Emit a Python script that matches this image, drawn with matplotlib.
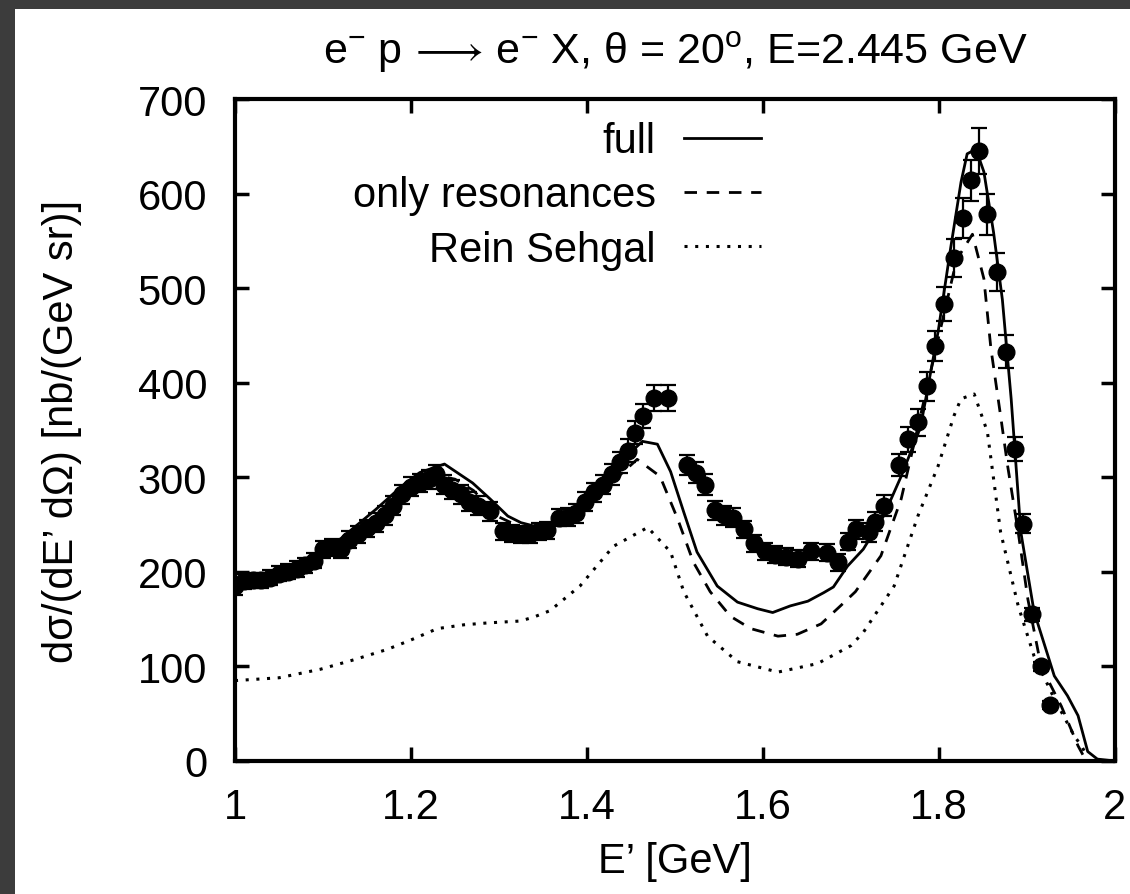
import numpy as np
import matplotlib
matplotlib.use("Agg")
import matplotlib.pyplot as plt
from matplotlib.patches import Rectangle

plt.rcParams.update({
    "font.family": ["Liberation Sans", "DejaVu Sans"],
    "mathtext.fontset": "custom",
    "mathtext.rm": "Liberation Sans",
    "mathtext.it": "Liberation Sans:italic",
    "font.size": 30,
})

# --- data points (E' [GeV], dsigma, error) ------------------------------------
data_E = [1.000, 1.010, 1.020, 1.030, 1.040, 1.050, 1.060, 1.070, 1.080, 1.090,
          1.100, 1.110, 1.120, 1.130, 1.140, 1.150, 1.160, 1.170, 1.180, 1.190,
          1.200, 1.210, 1.220, 1.228, 1.237, 1.247, 1.257, 1.266, 1.276, 1.290,
          1.305, 1.315, 1.325, 1.335, 1.345, 1.355, 1.368, 1.378, 1.388, 1.398,
          1.408, 1.418, 1.428, 1.438, 1.447, 1.455, 1.464, 1.476, 1.492, 1.514,
          1.524, 1.534, 1.545, 1.556, 1.566, 1.578, 1.590, 1.602, 1.614, 1.626,
          1.640, 1.654, 1.673, 1.685, 1.697, 1.706, 1.720, 1.727, 1.737, 1.754,
          1.765, 1.776, 1.786, 1.796, 1.806, 1.817, 1.827, 1.836, 1.845, 1.855,
          1.866, 1.876, 1.886, 1.895, 1.906, 1.916, 1.926]
data_v = [185, 190, 191, 191, 194, 198, 200, 203, 207, 212,
          224, 226, 224, 234, 240, 246, 252, 260, 270, 282,
          290, 294, 298, 303, 292, 287, 282, 274, 270, 264,
          243, 241, 240, 240, 243, 244, 257, 258, 262, 274,
          284, 292, 303, 316, 328, 347, 365, 384, 384, 313,
          305, 292, 265, 260, 257, 245, 230, 222, 218, 216,
          214, 222, 220, 210, 232, 245, 242, 253, 270, 313,
          340, 358, 396, 439, 483, 532, 574, 614, 645, 578,
          517, 433, 330, 251, 155, 100, 59]
data_err = [9, 8, 8, 8, 8, 8, 8, 8, 8, 8,
            9, 9, 9, 9, 9, 9, 10, 10, 10, 10,
            10, 10, 10, 10, 10, 10, 10, 10, 10, 10,
            9, 9, 9, 9, 9, 9, 9, 9, 10, 10,
            10, 10, 11, 11, 12, 12, 13, 14, 14, 11,
            11, 11, 10, 10, 10, 9, 9, 9, 9, 9,
            9, 9, 9, 9, 9, 10, 10, 10, 11, 12,
            13, 14, 15, 16, 18, 20, 21, 22, 24, 22,
            20, 17, 13, 10, 7, 5, 4]

# --- model curves ------------------------------------------------------------
full_E = [1.00, 1.05, 1.10, 1.12, 1.16, 1.19, 1.21, 1.238, 1.27, 1.29, 1.31, 1.325,
          1.35, 1.37, 1.40, 1.42, 1.44, 1.463, 1.48, 1.495, 1.51, 1.525, 1.548,
          1.571, 1.594, 1.611, 1.631, 1.651, 1.669, 1.68, 1.696, 1.714, 1.737,
          1.757, 1.779, 1.799, 1.813, 1.825, 1.832, 1.842, 1.851, 1.862, 1.872,
          1.882, 1.893, 1.908, 1.931, 1.946, 1.958, 1.969, 1.98, 2.0]
full_v = [190, 200, 222, 235, 266, 291, 305, 314, 294, 277, 259, 252,
          246, 252, 275, 296, 318, 338, 335, 306, 263, 221, 185,
          168, 161, 157, 164, 169, 178, 184, 206, 224, 259,
          301, 353, 454, 541, 612, 642, 647, 623, 559, 488,
          383, 242, 158, 90, 69, 48, 10, 2, 0]

res_E = [1.00, 1.05, 1.10, 1.15, 1.19, 1.225, 1.25, 1.271, 1.30, 1.33, 1.36, 1.40,
         1.43, 1.457, 1.483, 1.503, 1.521, 1.54, 1.563, 1.586, 1.617, 1.639, 1.666,
         1.688, 1.705, 1.734, 1.757, 1.772, 1.80, 1.82, 1.838, 1.851, 1.859, 1.87,
         1.878, 1.89, 1.901, 1.916, 1.939, 1.958, 1.965]
res_v = [188, 198, 220, 250, 285, 303, 298, 286, 258, 245, 245, 268,
         296, 319, 301, 256, 210, 179, 153, 140, 132, 134, 145,
         164, 179, 217, 277, 337, 450, 530, 557, 510, 436, 365,
         312, 242, 171, 100, 58, 16, 4]

rs_E = [1.00, 1.05, 1.097, 1.135, 1.173, 1.20, 1.23, 1.26, 1.287, 1.324, 1.339,
        1.358, 1.392, 1.43, 1.469, 1.495, 1.51, 1.537, 1.571, 1.617, 1.662, 1.70,
        1.714, 1.749, 1.776, 1.799, 1.817, 1.825, 1.84, 1.855, 1.87, 1.89, 1.908,
        1.931, 1.954, 1.962, 1.968]
rs_v = [85, 88, 97, 107, 118, 128, 140, 144, 146, 148, 152,
        159, 185, 227, 247, 221, 179, 132, 105, 94, 103, 122,
        136, 185, 259, 312, 365, 383, 388, 348, 242, 164, 111,
        66, 26, 16, 5]

fig = plt.figure(figsize=(11.3, 8.95), dpi=100, facecolor="#3c3c3c")
fig.patches.append(Rectangle((15 / 1130, 0), 1, 1 - 10 / 895, transform=fig.transFigure,
                             facecolor="white", edgecolor="none", zorder=-10))
ax = fig.add_axes([235 / 1130, 133 / 895, 880 / 1130, 662 / 895])

ax.plot(full_E, full_v, color="black", lw=2.0, ls="-", label="full")
ax.plot(res_E, res_v, color="black", lw=2.0, ls=(0, (4.5, 3.5)), label="only resonances")
ax.plot(rs_E, rs_v, color="black", lw=2.2, ls=(0, (1, 2.5)), label="Rein Sehgal")
ax.errorbar(data_E, data_v, yerr=data_err, fmt="o", color="black", ms=12,
            elinewidth=1.6, capsize=6, capthick=1.6, zorder=5)

ax.set_xlim(1, 2)
ax.set_ylim(0, 700)
ax.set_xticks(np.arange(1, 2.01, 0.2))
ax.set_xticklabels(["1", "1.2", "1.4", "1.6", "1.8", "2"])
ax.set_yticks(range(0, 701, 100))
ax.tick_params(direction="in", length=10, width=2.5, top=True, right=True)
ax.tick_params(axis="x", pad=19)
ax.tick_params(axis="y", pad=20)
for s in ax.spines.values():
    s.set_linewidth(3)

ax.set_xlabel("E\u2019 [GeV]", labelpad=10)
ax.set_ylabel("d\u03c3/(dE\u2019 d\u03a9) [nb/(GeV sr)]", labelpad=40)
ax.set_title("e$^{-}$ p$\\,\\longrightarrow\\,$e$^{-}$ X, \u03b8 = 20$^{\\rm o}$, E=2.445 GeV",
             pad=26, fontsize=31)

ax.legend(loc="upper right", bbox_to_anchor=(0.64, 1.023), frameon=False, markerfirst=False,
          handlelength=1.85, labelspacing=0.34, handletextpad=0.67, fontsize=30)

fig.savefig("out.png", dpi=100, facecolor=fig.get_facecolor())
